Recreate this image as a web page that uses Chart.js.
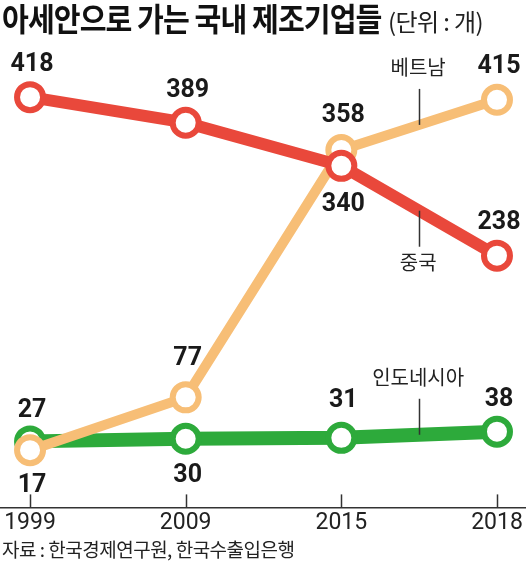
<!DOCTYPE html>
<html><head><meta charset="utf-8">
<script src="https://cdn.jsdelivr.net/npm/chart.js@4"></script>
<style>
html,body{margin:0;padding:0;background:#fff;}
#wrap{position:relative;width:530px;height:563px;overflow:hidden;}
canvas{position:absolute;left:0;top:0;}
#title{position:absolute;left:2px;top:-6px;font-family:"Noto Sans CJK KR";font-weight:700;font-size:32px;letter-spacing:-1px;color:#111;white-space:nowrap;transform:scaleX(0.91);transform-origin:0 0;}
#unit{position:absolute;left:388px;top:3px;font-family:"Noto Sans CJK KR";font-weight:400;font-size:24px;letter-spacing:-0.6px;color:#222;white-space:nowrap;}
#source{position:absolute;left:2px;top:535px;font-family:"Noto Sans CJK KR";font-size:19px;letter-spacing:-0.5px;color:#222;white-space:nowrap;}
</style></head>
<body><div id="wrap"><canvas id="c" width="530" height="563"></canvas>
<div id="title">아세안으로 가는 국내 제조기업들</div>
<div id="unit">(단위 : 개)</div>
<div id="source">자료 : 한국경제연구원, 한국수출입은행</div></div>
<script>
// ---- data ----
const years = ['1999', '2009', '2015', '2018'];
const seriesNames = ['중국', '베트남', '인도네시아'];
const china = [418, 389, 340, 238];
const vietnam = [17, 77, 358, 415];
const indonesia = [27, 30, 31, 38];

// ---- presentation ----
const colors = ['#E9483B', '#F7BE76', '#2DAA3B'];
const lineWidths = [12, 10, 14];
const labelDy = [[-35, -35, 36, -36], [33, -41, -37, -36], [-33, 34, -40, -35]];
const nameDir = [1, -1, -1]; // below / above

const allSeries = [china, vietnam, indonesia];
const datasets = allSeries.map((vals, k) => ({
  label: seriesNames[k],
  data: vals.map((v, i) => ({ x: i, y: v })),
  borderColor: colors[k],
  borderWidth: lineWidths[k],
  pointRadius: 13,
  pointHoverRadius: 13,
  pointBorderWidth: 6,
  pointBackgroundColor: '#fff',
  pointBorderColor: colors[k],
  tension: 0,
  clip: false
}));

const overlay = {
  id: 'overlay',
  afterDatasetsDraw(chart) {
    const ctx = chart.ctx;
    const xs = chart.scales.x, ys = chart.scales.y;
    const area = chart.chartArea;
    ctx.save();
    // tick marks above axis
    ctx.strokeStyle = '#333';
    ctx.lineWidth = 1.5;
    years.forEach((_, i) => {
      const x = Math.round(xs.getPixelForValue(i)) + 0.5;
      ctx.beginPath();
      ctx.moveTo(x, area.bottom - 13);
      ctx.lineTo(x, area.bottom);
      ctx.stroke();
    });
    // value labels
    ctx.fillStyle = '#1a1a1a';
    ctx.font = '700 25px Roboto';
    ctx.textAlign = 'center';
    ctx.textBaseline = 'alphabetic';
    allSeries.forEach((vals, k) => {
      vals.forEach((v, i) => {
        const x = xs.getPixelForValue(i) + 2;
        const y = ys.getPixelForValue(v) + labelDy[k][i];
        ctx.fillText(String(v), x, y + 9);
      });
    });
    // series name annotations with leader lines
    ctx.font = '400 20px "Noto Sans CJK KR"';
    ctx.textBaseline = 'middle';
    allSeries.forEach((vals, k) => {
      const x = xs.getPixelForValue(2.5);
      const ly = ys.getPixelForValue((vals[2] + vals[3]) / 2);
      const d = nameDir[k];
      const xl = Math.round(x) + 0.5;
      ctx.strokeStyle = '#333';
      ctx.lineWidth = 1.5;
      ctx.beginPath();
      ctx.moveTo(xl, ly);
      ctx.lineTo(xl, ly + d * 36);
      ctx.stroke();
      ctx.fillStyle = '#222';
      ctx.fillText(seriesNames[k], x - 1, ly + d * (d > 0 ? 52 : 57));
    });
    ctx.restore();
  }
};

new Chart(document.getElementById('c'), {
  type: 'line',
  data: { datasets },
  options: {
    responsive: false,
    animation: false,
    events: [],
    layout: { autoPadding: false, padding: { top: 69, right: 5, left: 0, bottom: 24 } },
    plugins: { legend: { display: false }, tooltip: { enabled: false } },
    scales: {
      x: {
        type: 'linear',
        min: -0.193,
        max: 3.18,
        afterBuildTicks: (scale) => { scale.ticks = years.map((_, i) => ({ value: i })); },
        afterFit: (scale) => { scale.paddingLeft = 0; scale.paddingRight = 0; },
        ticks: {
          callback: (v) => years[v],
          font: { family: 'Roboto', size: 23, weight: '400' },
          color: '#222',
          padding: 2,
          maxRotation: 0,
          autoSkip: false
        },
        grid: { display: false, drawTicks: false },
        border: { display: true, color: '#333', width: 1.5 }
      },
      y: {
        display: false,
        min: -48,
        max: 450
      }
    }
  },
  plugins: [overlay]
});
</script>
</body></html>
